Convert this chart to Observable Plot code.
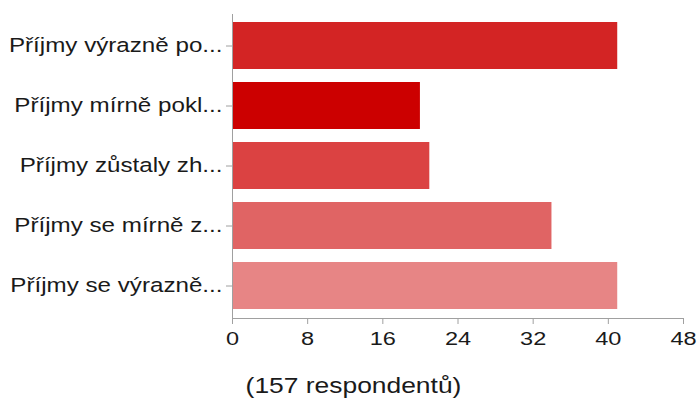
<!DOCTYPE html>
<html>
<head>
<meta charset="utf-8">
<script src="https://cdn.jsdelivr.net/npm/d3@7"></script>
<script src="https://cdn.jsdelivr.net/npm/@observablehq/plot@0.6"></script>
<style>
  body { margin: 0; background: #fff; }
  #chart { position: relative; width: 699px; height: 403px; overflow: hidden; }
  #chart svg { position: absolute; left: 0; top: 0; }
  #caption {
    position: absolute; left: 4px; top: 375px; width: 699px;
    text-align: center; color: #1a1a1a;
    font: 22px "Liberation Sans", Arial, sans-serif; line-height: 22px;
    transform: scaleX(1.2);
  }
</style>
</head>
<body>
<div id="chart"></div>
<script>
// Answers to the income question (truncated labels as shown on the axis)
const categories = [
  "Příjmy výrazně po...",
  "Příjmy mírně pokl...",
  "Příjmy zůstaly zh...",
  "Příjmy se mírně z...",
  "Příjmy se výrazně..."
];
const counts = [41, 20, 21, 34, 41];
const barColors = ["#d32424", "#cc0000", "#db4242", "#e06464", "#e78585"];
const xTicks = [0, 8, 16, 24, 32, 40, 48];
const respondents = 157;

const rows = categories.map((label, i) => ({label, count: counts[i], color: barColors[i]}));

const font = '"Liberation Sans", Arial, sans-serif';
const axisColor = "#a0a0a0";
const textColor = "#1a1a1a";
const stretch = 1.24; // horizontal glyph stretch of the chart text

const plot = Plot.plot({
  width: 699,
  height: 362,
  marginTop: 14,
  marginBottom: 44,
  marginLeft: 232,
  marginRight: 16,
  style: {fontFamily: font, background: "#fff"},
  x: {domain: [0, 48], ticks: xTicks, label: null},
  y: {domain: categories, paddingInner: 0.21, paddingOuter: 0.135, label: null},
  color: {type: "identity"},
  marks: [
    Plot.barX(rows, {x: "count", y: "label", fill: "color"}),
    Plot.frame({anchor: "left", stroke: axisColor}),
    Plot.frame({anchor: "bottom", stroke: axisColor}),
    Plot.axisX({
      ticks: xTicks, tickSize: 6, tickPadding: 7, stroke: axisColor,
      fill: textColor, fontSize: 19, label: null
    }),
    Plot.axisY({
      tickSize: 6, tickPadding: 4, stroke: axisColor,
      fill: textColor, fontSize: 19.5, label: null
    })
  ]
});

// widen the glyphs around their anchor points
plot.querySelectorAll("text").forEach((t) => {
  const tr = t.getAttribute("transform");
  if (tr) {
    t.setAttribute("transform", `${tr} scale(${stretch},1)`);
  } else {
    const x = +t.getAttribute("x") || 0;
    t.setAttribute("transform", `translate(${x},0) scale(${stretch},1) translate(${-x},0)`);
  }
});

const chart = document.getElementById("chart");
chart.appendChild(plot);
const caption = document.createElement("div");
caption.id = "caption";
caption.textContent = `(${respondents} respondentů)`;
chart.appendChild(caption);
</script>
</body>
</html>
